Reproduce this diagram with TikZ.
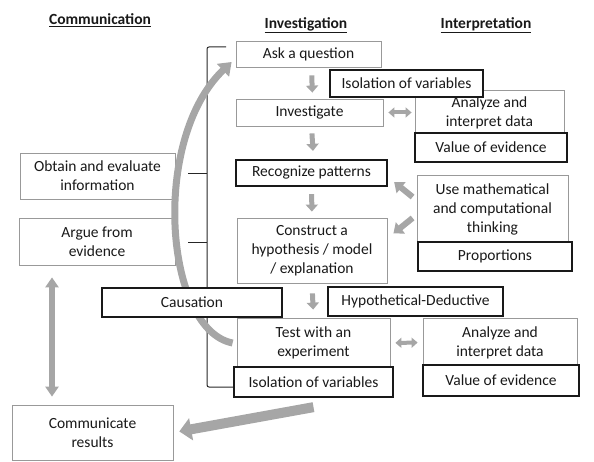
\documentclass[tikz,border=0pt]{standalone}
\usepackage{fontspec}
\setmainfont{Carlito}
\usetikzlibrary{arrows.meta}

\begin{document}
\begin{tikzpicture}[x=1pt, y=-1pt, font=\fontsize{15.5}{19}\selectfont,
    thinbox/.style={draw=black!40, line width=0.8pt, fill=white, text=black!90, align=center, inner sep=1pt},
    thickbox/.style={draw=black!90, line width=2.3pt, fill=white, text=black!90, align=center, inner sep=1pt},
    heading/.style={font=\fontsize{15.5}{19}\selectfont\bfseries, text=black!90},
    greyarrow/.style={draw=black!35, line width=5pt, -{Triangle[width=12pt,length=7pt]}},
    twoway/.style={draw=black!35, line width=4pt, {Triangle[width=10pt,length=6pt]}-{Triangle[width=10pt,length=6pt]}}]
    \useasboundingbox (0,0) rectangle (594,462);% keep the margins
    % Bracket round the investigation column
    \draw[black!85, line width=1pt, rounded corners=2pt] (226,47) -- (207,47) -- (207,387) -- (233,387);
    \draw[black!85, line width=1pt] (188,174) -- (207,174);% tick to obtain
    \draw[black!85, line width=1pt] (188,243) -- (207,243);% tick to argue
    % Columns
    \node[heading] (comm) at (100,20) {\underline{Communication}};
    \node[heading] (invest) at (306,25) {\underline{Investigation}};
    \node[heading] (interp) at (486,25) {\underline{Interpretation}};
    % Investigation
    \node[thinbox, minimum width=145pt, minimum height=26pt] (ask) at (308.5,54) {Ask a question};
    \node[thinbox, minimum width=147pt, minimum height=27pt] (investigate) at (309.5,112.5) {Investigate};
    \node[thinbox, minimum width=150pt, minimum height=65pt] (construct) at (312,250.5) {Construct a\\hypothesis / model\\/ explanation};
    \node[thinbox, minimum width=153pt, minimum height=50pt] (test) at (313.5,343) {Test with an\\experiment};
    % Interpretation
    \node[thinbox, minimum width=149pt, minimum height=45pt] (analyzeA) at (489.5,112.5) {Analyze and\\interpret data};
    \node[thinbox, minimum width=151pt, minimum height=68pt] (math) at (492.5,209) {Use mathematical\\and computational\\thinking};
    \node[thinbox, minimum width=154pt, minimum height=49pt] (analyzeB) at (500,342.5) {Analyze and\\interpret data};
    % Communication
    \node[thinbox, minimum width=155pt, minimum height=46pt] (obtain) at (97.5,176) {Obtain and evaluate\\information};
    \node[thinbox, minimum width=156pt, minimum height=47pt] (argue) at (97,241.5) {Argue from\\evidence};
    \node[thinbox, minimum width=161pt, minimum height=55pt] (communicate) at (92.5,432.5) {Communicate\\results};
    % Curved arrow back to the question
    \draw[draw=black!35, line width=7pt, -{Triangle[width=17pt,length=12pt]}]
        ([xshift=-4pt]test.west) .. controls (165,330) and (150,140) .. ([xshift=-4pt,yshift=-8pt]ask.west);
    % Thick boxes
    \node[thickbox, minimum width=151pt, minimum height=26pt] (recog) at (311.5,173) {Recognize patterns};
    \node[thickbox, minimum width=153pt, minimum height=27pt] (isoA) at (406.5,83.5) {Isolation of variables};
    \node[thickbox, minimum width=159pt, minimum height=30pt] (isoB) at (313.5,382) {Isolation of variables};
    \node[thickbox, minimum width=152pt, minimum height=29pt] (valueA) at (491,147.5) {Value of evidence};
    \node[thickbox, minimum width=154pt, minimum height=29pt] (prop) at (495,256.5) {Proportions};
    \node[thickbox, minimum width=175pt, minimum height=29pt] (hypo) at (415.5,301.5) {Hypothetical-Deductive};
    \node[thickbox, minimum width=156pt, minimum height=31pt] (valueB) at (501,380.5) {Value of evidence};
    \node[thickbox, minimum width=180pt, minimum height=29pt] (causation) at (192,302.5) {Causation};
    % Steps down the investigation column
    \draw[greyarrow, shorten <=8pt, shorten >=6pt] ([xshift=3pt]ask.south) -- ([xshift=3pt]investigate.north);
    \draw[greyarrow, shorten <=7pt, shorten >=8pt] ([xshift=2pt]investigate.south) -- ([xshift=2pt]recog.north);
    \draw[greyarrow, shorten <=7pt, shorten >=6pt] (recog.south) -- (construct.north);
    \draw[greyarrow, shorten <=10pt, shorten >=8pt] (construct.south) -- (test.north);
    % Links to interpretation
    \draw[twoway, shorten <=5pt, shorten >=3pt] (investigate.east) -- (analyzeA.west);
    \draw[twoway, shorten <=5pt, shorten >=5pt] (test.east) -- (analyzeB.west);
    \draw[greyarrow, line width=6pt, -{Triangle[width=14pt,length=9pt]}] ([xshift=-4pt,yshift=12pt]math.west) -- ([xshift=6pt,yshift=-9pt]recog.east);
    \draw[greyarrow, line width=6pt, -{Triangle[width=14pt,length=9pt]}] ([xshift=-4pt,yshift=-9pt]math.west) -- ([xshift=6pt,yshift=17pt]construct.east);
    % Communication
    \draw[draw=black!35, line width=6pt, {Triangle[width=13pt,length=10pt]}-{Triangle[width=13pt,length=10pt]}]
        ([xshift=-45pt,yshift=-12pt]argue.south) -- ([xshift=-40.5pt,yshift=8pt]communicate.north);
    \draw[draw=black!35, line width=10pt, -{Triangle[width=22pt,length=12pt]}, shorten >=6pt]
        ([yshift=-9pt]isoB.south) -- (communicate.east);
\end{tikzpicture}
\end{document}
